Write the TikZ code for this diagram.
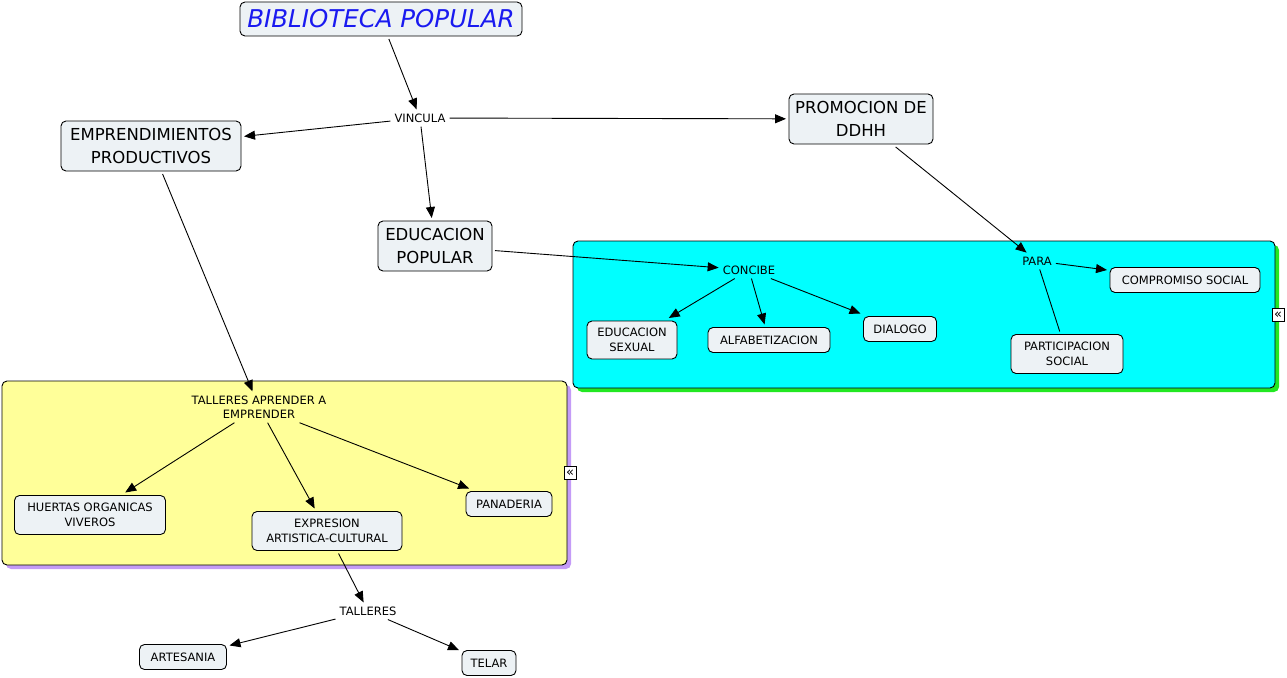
\documentclass[tikz,border=0pt]{standalone}
\usepackage{fontspec}
\setmainfont{DejaVu Sans}
\usepackage{tikz}
\usetikzlibrary{arrows.meta}

\definecolor{nodefill}{HTML}{EDF2F5}
\definecolor{cyanbox}{HTML}{00FFFF}
\definecolor{greenshade}{HTML}{22E822}
\definecolor{yellowbox}{HTML}{FFFF99}
\definecolor{purpleshade}{HTML}{C49BF7}
\definecolor{titleblue}{HTML}{1A1AF0}

\tikzset{
  concept/.style={draw, line width=0.9pt, rounded corners=5pt, fill=nodefill, align=center, inner sep=2pt, outer sep=3pt, font=\fontsize{16.5}{23}\selectfont},
  small/.style={draw, line width=0.9pt, rounded corners=5pt, fill=nodefill, align=center, inner sep=2pt, outer sep=3pt, font=\fontsize{11.5}{15}\selectfont},
  linkword/.style={align=center, inner sep=4pt, font=\fontsize{11.5}{14.5}\selectfont},
  conn/.style={line width=0.9pt, -{Triangle[length=11pt,width=9pt]}},
  collapse/.style={draw, line width=0.9pt, fill=white, inner sep=0pt, minimum width=12pt, minimum height=13pt, font=\fontsize{13}{13}\selectfont}
}

\begin{document}
\begin{tikzpicture}[x=1pt,y=1pt,yscale=-1]
\useasboundingbox (0,0) rectangle (1287,677);

% groups
\fill[greenshade, rounded corners=5pt] (577,245) rectangle (1279,392);
\filldraw[line width=0.9pt, fill=cyanbox, rounded corners=5pt] (573,241) rectangle (1275,388);
\fill[purpleshade, rounded corners=5pt] (6,385) rectangle (571,569);
\filldraw[line width=0.9pt, fill=yellowbox, rounded corners=5pt] (2,381) rectangle (567,565);

% concepts
\node[concept, minimum width=282pt, minimum height=34pt, font=\fontsize{24.5}{24.5}\selectfont\itshape, text=titleblue] (biblio) at (381,19) {BIBLIOTECA POPULAR};
\node[linkword] (vincula) at (420,118) {VINCULA};
\node[concept, minimum width=180pt, minimum height=50pt] (empre) at (151,146) {EMPRENDIMIENTOS\\PRODUCTIVOS};
\node[concept, minimum width=144pt, minimum height=50pt] (ddhh) at (861,119) {PROMOCION DE\\DDHH};
\node[concept, minimum width=114pt, minimum height=50pt] (edupop) at (435,246) {EDUCACION\\POPULAR};

\node[linkword] (concibe) at (749,270) {CONCIBE};
\node[linkword] (para) at (1037,261) {PARA};
\node[small, minimum width=150pt, minimum height=25pt] (compromiso) at (1185,280) {COMPROMISO SOCIAL};
\node[small, minimum width=90pt, minimum height=38pt] (edusex) at (632,340) {EDUCACION\\SEXUAL};
\node[small, minimum width=122pt, minimum height=25pt] (alfa) at (769,340) {ALFABETIZACION};
\node[small, minimum width=73pt, minimum height=25pt] (dialogo) at (900,329) {DIALOGO};
\node[small, minimum width=112pt, minimum height=39pt] (partic) at (1067,354) {PARTICIPACION\\SOCIAL};

\node[linkword] (talleresap) at (259,407) {TALLERES APRENDER A\\EMPRENDER};
\node[small, minimum width=151pt, minimum height=39pt] (huertas) at (90,515) {HUERTAS ORGANICAS\\VIVEROS};
\node[small, minimum width=150pt, minimum height=39pt] (expresion) at (327,531) {EXPRESION\\ARTISTICA-CULTURAL};
\node[small, minimum width=86pt, minimum height=25pt] (panaderia) at (509,504) {PANADERIA};
\node[linkword] (talleres) at (368,611) {TALLERES};
\node[small, minimum width=87pt, minimum height=25pt] (artesania) at (183,657) {ARTESANIA};
\node[small, minimum width=54pt, minimum height=25pt] (telar) at (489,663) {TELAR};

\node[collapse] (foldcyan) at (1278,315) {«};
\node[collapse] (foldyellow) at (570,473) {«};

% connectors
\draw[conn] (biblio) -- (vincula);
\draw[conn] (vincula) -- (empre);
\draw[conn] (vincula) -- (ddhh);
\draw[conn] (vincula) -- (edupop);
\draw[conn] (empre) -- (talleresap);
\draw[conn] (edupop) -- (concibe);
\draw[conn] (ddhh) -- (para);
\draw[conn] (para) -- (compromiso);
\draw[line width=0.9pt] (partic) -- (para);
\draw[conn] (concibe) -- (edusex);
\draw[conn] (concibe) -- (alfa);
\draw[conn] (concibe) -- (dialogo);
\draw[conn] (talleresap) -- (huertas);
\draw[conn] (talleresap) -- (expresion);
\draw[conn] (talleresap) -- (panaderia);
\draw[conn] (expresion) -- (talleres);
\draw[conn] (talleres) -- (artesania);
\draw[conn] (talleres) -- (telar);

\end{tikzpicture}
\end{document}
